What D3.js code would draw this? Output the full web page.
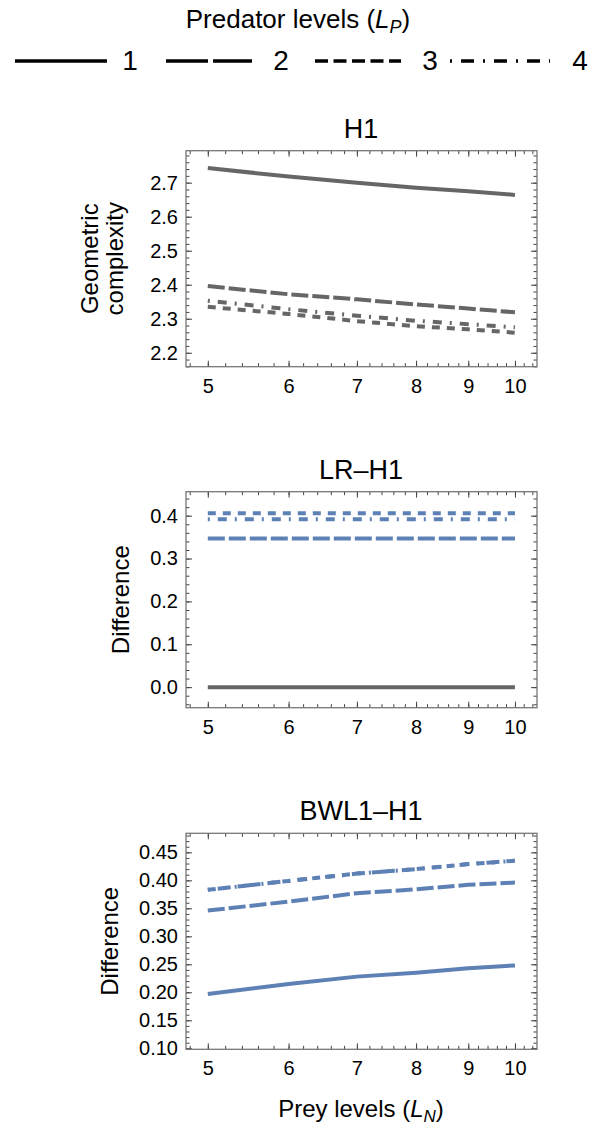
<!DOCTYPE html>
<html>
<head>
<meta charset="utf-8">
<script src="https://cdn.jsdelivr.net/npm/d3@7"></script>
<style>
  body { margin: 0; background: #fff; }
  svg { display: block; font-family: "Liberation Sans", Arial, sans-serif; }
</style>
</head>
<body>
<div id="chart"></div>
<script>
// prey levels (x)
const preyLevels = [5, 6, 7, 8, 9, 10];
const predatorLevels = ["1", "2", "3", "4"];

// H1 panel, geometric complexity per predator level
const h1Lp1 = [2.743, 2.718, 2.700, 2.685, 2.675, 2.664];
const h1Lp2 = [2.396, 2.372, 2.357, 2.342, 2.330, 2.319];
const h1Lp3 = [2.335, 2.314, 2.293, 2.278, 2.269, 2.259];
const h1Lp4 = [2.353, 2.328, 2.309, 2.294, 2.284, 2.275];

// LR-H1 difference
const lrLp1 = [0, 0, 0, 0, 0, 0];
const lrLp2 = [0.347, 0.347, 0.347, 0.347, 0.347, 0.347];
const lrLp3 = [0.406, 0.406, 0.406, 0.406, 0.406, 0.406];
const lrLp4 = [0.392, 0.392, 0.392, 0.392, 0.392, 0.392];

// BWL1-H1 difference
const bwLp1 = [0.197, 0.215, 0.228, 0.235, 0.243, 0.248];
const bwLp2 = [0.346, 0.362, 0.377, 0.384, 0.392, 0.396];
const bwLp3 = [0.383, 0.399, 0.412, 0.420, 0.429, 0.435];
const bwLp4 = [0.383, 0.399, 0.412, 0.420, 0.429, 0.435];

const h1Ticks = [2.2, 2.3, 2.4, 2.5, 2.6, 2.7];
const lrTicks = [0.0, 0.1, 0.2, 0.3, 0.4];
const bwTicks = [0.10, 0.15, 0.20, 0.25, 0.30, 0.35, 0.40, 0.45];

const grey = "#666666";
const blue = "#5e81b5";

const width = 593, height = 1128;
const svg = d3.select("#chart").append("svg")
  .attr("width", width)
  .attr("height", height);

// dash styles per predator level
const plotDash = [null, "17,4", "8,7", "2,8,9,8"];
const legendDash = [null, "42,5", "13,5.5", "2,9,13,9"];

// legend
const legendTitle = svg.append("text")
  .attr("x", 298).attr("y", 28)
  .attr("text-anchor", "middle")
  .attr("font-size", 26);
legendTitle.append("tspan").text("Predator levels (");
legendTitle.append("tspan").attr("font-style", "italic").text("L");
legendTitle.append("tspan").attr("font-style", "italic").attr("font-size", 18).attr("dy", 5).text("P");
legendTitle.append("tspan").attr("dy", -5).text(")");

const legendX = [15, 166, 315, 450];
const legendLen = [92, 86, 86, 100];
const legendLabelX = [130, 281, 430, 580];
predatorLevels.forEach((lab, i) => {
  svg.append("line")
    .attr("x1", legendX[i]).attr("x2", legendX[i] + legendLen[i])
    .attr("y1", 61).attr("y2", 61)
    .attr("stroke", "#000")
    .attr("stroke-width", 3.5)
    .attr("stroke-dasharray", legendDash[i]);
  svg.append("text")
    .attr("x", legendLabelX[i])
    .attr("y", 70)
    .attr("text-anchor", "middle")
    .attr("font-size", 28)
    .text(lab);
});

const panels = [
  { title: "H1", top: 150.7, domain: [2.159, 2.794], ticks: h1Ticks, minor: 0.02, fmt: d3.format(".1f"),
    ylabel: ["Geometric", "complexity"], ylabelX: [98, 123],
    series: [h1Lp1, h1Lp2, h1Lp3, h1Lp4], colors: [grey, grey, grey, grey] },
  { title: "LR\u2013H1", top: 491.7, domain: [-0.048, 0.456], ticks: lrTicks, minor: 0.02, fmt: d3.format(".1f"),
    ylabel: ["Difference"], ylabelX: [129],
    series: [lrLp1, lrLp2, lrLp3, lrLp4], colors: [grey, blue, blue, blue] },
  { title: "BWL1\u2013H1", top: 833.3, domain: [0.0982, 0.484], ticks: bwTicks, minor: 0.01, fmt: d3.format(".2f"),
    ylabel: ["Difference"], ylabelX: [118],
    series: [bwLp1, bwLp2, bwLp3, bwLp4], colors: [blue, blue, blue, blue] }
];

const left = 186, right = 537, panelH = 216;
const x = d3.scaleLog().domain([4.76, 10.51]).range([left, right]);
const xMinor = d3.range(4.8, 10.5, 0.2).map(v => +v.toFixed(1));

panels.forEach((p, pi) => {
  const top = p.top, bottom = top + panelH;
  const y = d3.scaleLinear().domain(p.domain).range([bottom, top]);
  const g = svg.append("g");

  // title
  g.append("text")
    .attr("x", 361).attr("y", top - 13)
    .attr("text-anchor", "middle")
    .attr("font-size", 27)
    .text(p.title);

  // y label
  p.ylabel.forEach((t, k) => {
    g.append("text")
      .attr("transform", `translate(${p.ylabelX[k]},${(top + bottom) / 2}) rotate(-90)`)
      .attr("text-anchor", "middle")
      .attr("font-size", 24)
      .text(t);
  });

  const clipId = "clip" + pi;
  g.append("clipPath").attr("id", clipId)
    .append("rect").attr("x", left).attr("y", top).attr("width", right - left).attr("height", panelH);

  const line = d3.line()
    .x((d, i) => x(preyLevels[i]))
    .y(d => y(d));

  const plot = g.append("g").attr("clip-path", `url(#${clipId})`);
  p.series.forEach((s, i) => {
    plot.append("path")
      .datum(s)
      .attr("fill", "none")
      .attr("stroke", p.colors[i])
      .attr("stroke-width", 4)
      .attr("stroke-dasharray", plotDash[i])
      .attr("d", line);
  });

  // axes with inward ticks on all four sides
  const yMinor = d3.range(Math.ceil(p.domain[0] / p.minor), Math.floor(p.domain[1] / p.minor) + 1)
    .map(k => +(k * p.minor).toFixed(3));

  g.append("g").attr("transform", `translate(${left},0)`)
    .call(d3.axisLeft(y).tickValues(yMinor).tickSize(-3.5).tickFormat(""));
  g.append("g").attr("transform", `translate(${left},0)`)
    .call(d3.axisLeft(y).tickValues(p.ticks).tickSize(-6).tickPadding(8).tickFormat(p.fmt));
  g.append("g").attr("transform", `translate(${right},0)`)
    .call(d3.axisRight(y).tickValues(yMinor).tickSize(-3.5).tickFormat(""));
  g.append("g").attr("transform", `translate(${right},0)`)
    .call(d3.axisRight(y).tickValues(p.ticks).tickSize(-6).tickFormat(""));

  g.append("g").attr("transform", `translate(0,${bottom})`)
    .call(d3.axisBottom(x).tickValues(xMinor).tickSize(-3.5).tickFormat(""));
  g.append("g").attr("transform", `translate(0,${bottom})`)
    .call(d3.axisBottom(x).tickValues(preyLevels).tickSize(-6).tickPadding(12).tickFormat(d3.format("d")));
  g.append("g").attr("transform", `translate(0,${top})`)
    .call(d3.axisTop(x).tickValues(xMinor).tickSize(-3.5).tickFormat(""));
  g.append("g").attr("transform", `translate(0,${top})`)
    .call(d3.axisTop(x).tickValues(preyLevels).tickSize(-6).tickFormat(""));

  g.selectAll(".domain").remove();
  g.selectAll(".tick line").attr("stroke", "#444").attr("stroke-width", 1);
  g.selectAll(".tick text").attr("fill", "#000").attr("font-size", 20)
    .attr("font-family", "'Liberation Sans', Arial, sans-serif");

  g.append("rect")
    .attr("x", left).attr("y", top)
    .attr("width", right - left).attr("height", panelH)
    .attr("fill", "none")
    .attr("stroke", "#777")
    .attr("stroke-width", 1.3);
});

// x axis title
const xTitle = svg.append("text")
  .attr("x", 361).attr("y", 1117)
  .attr("text-anchor", "middle")
  .attr("font-size", 24);
xTitle.append("tspan").text("Prey levels (");
xTitle.append("tspan").attr("font-style", "italic").text("L");
xTitle.append("tspan").attr("font-style", "italic").attr("font-size", 17).attr("dy", 5).text("N");
xTitle.append("tspan").attr("dy", -5).text(")");
</script>
</body>
</html>
